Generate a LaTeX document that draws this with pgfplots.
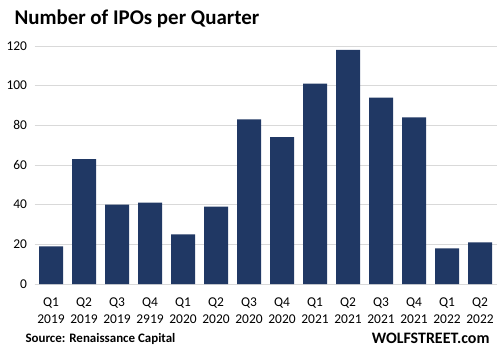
\documentclass[border=0pt]{standalone}
\usepackage{pgfplots}
\pgfplotsset{compat=1.18}
\usepackage{fontspec}
\setmainfont{Carlito}
\definecolor{barc}{HTML}{203864}
\definecolor{gridc}{HTML}{D9D9D9}
\begin{document}
\begin{tikzpicture}[x=1bp,y=1bp]
\useasboundingbox (0,0) rectangle (500,354);
\begin{axis}[
  at={(34.5bp,70bp)}, anchor=south west,
  scale only axis, width=462bp, height=238bp,
  xmin=-0.5, xmax=13.5, ymin=0, ymax=120,
  ytick={0,20,...,120},
  xtick={0,...,13},
  xticklabels={{Q1\\2019},{Q2\\2019},{Q3\\2019},{Q4\\2919},{Q1\\2020},{Q2\\2020},{Q3\\2020},{Q4\\2020},{Q1\\2021},{Q2\\2021},{Q3\\2021},{Q4\\2021},{Q1\\2022},{Q2\\2022}},
  xticklabel style={align=center, font=\fontsize{13.5}{16.5}\selectfont, yshift=-10.5bp},
  yticklabel style={font=\fontsize{13.5}{15}\selectfont, xshift=-4bp},
  /pgf/number format/assume math mode=true,
  major tick length=0pt,
  ymajorgrids, grid style={gridc, line width=0.8bp},
  axis x line*=bottom, axis y line*=left,
  x axis line style={draw=gridc, line width=1bp, -},
  y axis line style={draw=none},
  ybar, bar width=24bp,
  clip=false,
]
\addplot[fill=barc, draw=none] coordinates {
(0,19) (1,63) (2,40) (3,41) (4,25) (5,39) (6,83) (7,74) (8,101) (9,118) (10,94) (11,84) (12,18) (13,21)};
\end{axis}
\node[anchor=base west, font=\fontsize{21}{24}\bfseries\selectfont] at (11,330) {Number of IPOs per Quarter};
\node[anchor=base west, font=\fontsize{13}{15}\bfseries\selectfont] at (22,12) {Source: Renaissance Capital};
\node[anchor=base east, font=\fontsize{16}{19}\bfseries\selectfont] at (493,11) {WOLFSTREET.com};
\end{tikzpicture}
\end{document}
